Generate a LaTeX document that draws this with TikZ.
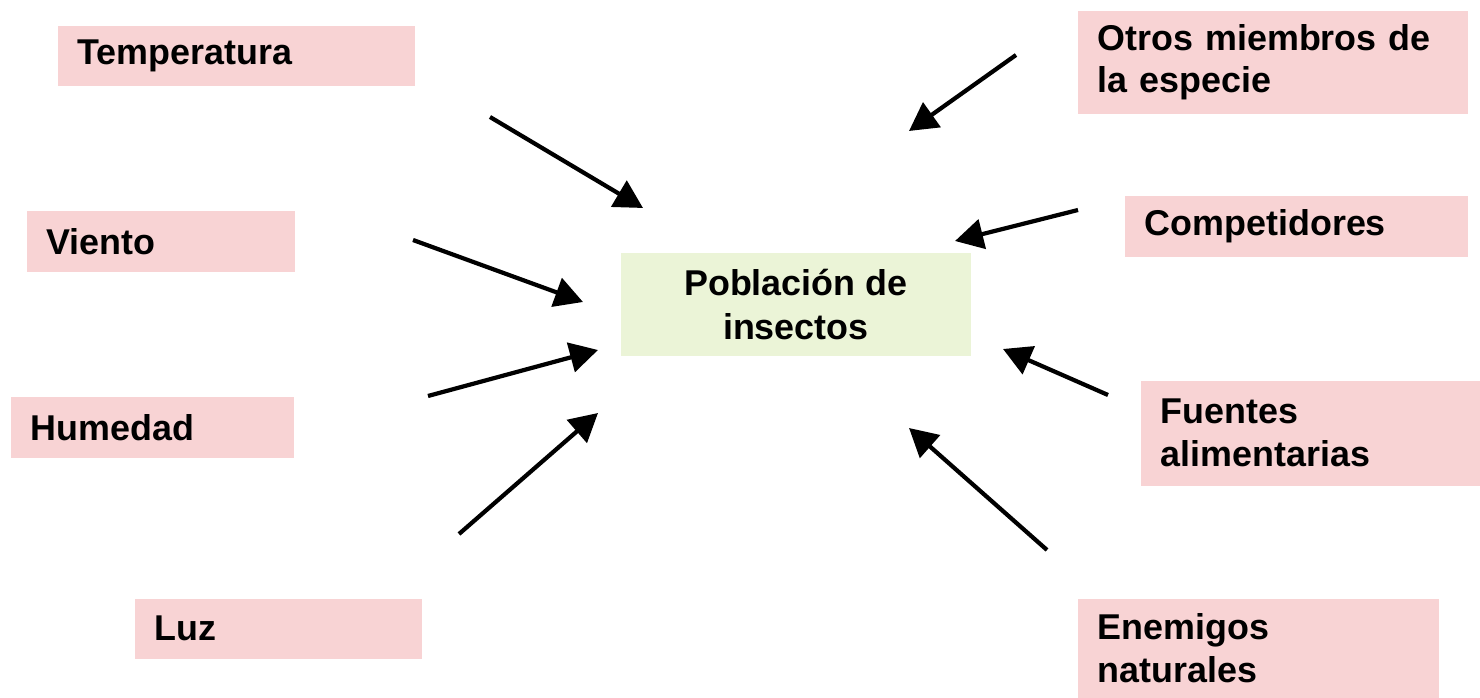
\documentclass[tikz,border=0pt]{standalone}
\usepackage{fontspec}
\setmainfont{Liberation Sans}
\usetikzlibrary{arrows.meta}
\definecolor{pinkbox}{RGB}{248,211,212}
\definecolor{greenbox}{RGB}{235,244,215}
\begin{document}
\begin{tikzpicture}[x=0.01cm,y=-0.01cm,
  factor/.style={fill=pinkbox, anchor=north west, inner xsep=0.2cm, inner ysep=0pt,
    align=left, font=\fontsize{10.2}{12.2}\selectfont\bfseries},
  center/.style={fill=greenbox, anchor=north west, inner sep=0pt, align=center,
    font=\fontsize{10.2}{12.6}\selectfont\bfseries},
  infl/.style={line width=1.2pt, -{Triangle[length=8pt,width=8.5pt]}}]
\useasboundingbox (0,0) rectangle (1480,698);
\node[center, minimum width=3.5cm, minimum height=1.03cm] (pob) at (620,252) {Población de\\insectos};
\node[factor, minimum width=3.57cm, minimum height=0.6cm, text width=3.17cm] (temp) at (57,25) {Temperatura};
\node[factor, minimum width=2.68cm, minimum height=0.61cm, text width=2.28cm] (vien) at (26,210) {Viento};
\node[factor, minimum width=2.83cm, minimum height=0.61cm, text width=2.43cm] (hum) at (10,396) {Humedad};
\node[factor, minimum width=2.87cm, minimum height=0.6cm, text width=2.47cm] (luz) at (134,598) {Luz};
\node[factor, minimum width=3.9cm, minimum height=1.03cm, text width=3.5cm] (otros) at (1077,10) {Otros miembros de\\la especie};
\node[factor, minimum width=3.43cm, minimum height=0.61cm, text width=3.03cm] (comp) at (1124,195) {Competidores};
\node[factor, minimum width=3.4cm, minimum height=1.05cm, text width=3.0cm] (fuen) at (1140,380) {Fuentes\\alimentarias};
\node[factor, minimum width=3.61cm, minimum height=0.99cm, text width=3.21cm] (enem) at (1077,598) {Enemigos\\naturales};
\coordinate (a1s) at (490,117); \coordinate (a1e) at (643,208);
\coordinate (a2s) at (413,240); \coordinate (a2e) at (583,302);
\coordinate (a3s) at (428,396); \coordinate (a3e) at (598,350);
\coordinate (a4s) at (459,534); \coordinate (a4e) at (598,413);
\coordinate (a5s) at (1016,55); \coordinate (a5e) at (909,131);
\coordinate (a6s) at (1078,210); \coordinate (a6e) at (955,241);
\coordinate (a7s) at (1108,395); \coordinate (a7e) at (1003,349);
\coordinate (a8s) at (1047,550); \coordinate (a8e) at (909,428);
\foreach \i in {1,...,8} {\draw[infl] (a\i s) -- (a\i e);}
\end{tikzpicture}
\end{document}
